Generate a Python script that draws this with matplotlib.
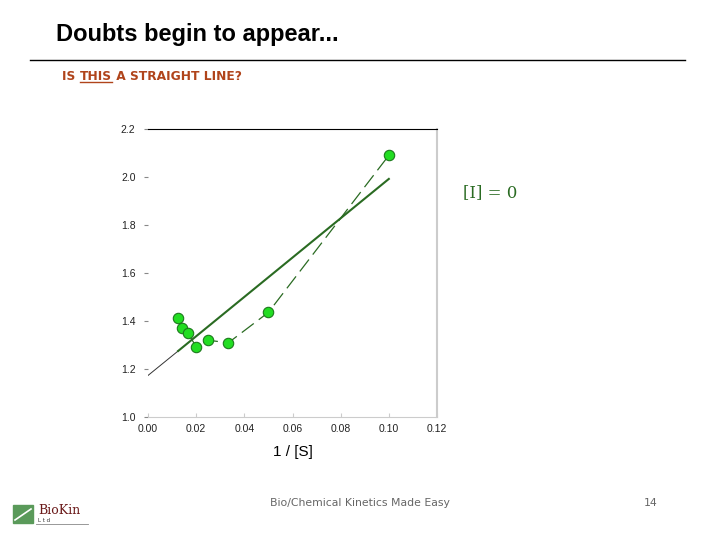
import matplotlib.pyplot as plt
from matplotlib.patches import Rectangle
import numpy as np

# data
inv_s = [1/80, 1/70, 1/60, 1/50, 1/40, 1/30, 1/20, 1/10]
rate = [1.412, 1.372, 1.348, 1.293, 1.320, 1.309, 1.436, 2.090]
fit_x = [0.0, 0.0125, 0.10]
fit_y = [1.173, 1.275, 1.992]
xticks = [0.00, 0.02, 0.04, 0.06, 0.08, 0.10, 0.12]
yticks = [1.0, 1.2, 1.4, 1.6, 1.8, 2.0, 2.2]

green = "#2a6b22"
sub_col = "#b0441b"
fig = plt.figure(figsize=(7.2, 5.4), dpi=100)

# slide header
fig.text(56/720, 1-34/540, "Doubts begin to appear...", fontsize=17, fontweight="bold",
         family="Liberation Sans", va="center")
fig.add_artist(plt.Line2D([30/720, 685/720], [1-60/540, 1-60/540], color="black", lw=1))

# subtitle, with THIS underlined
r = fig.canvas.get_renderer()
x0 = 62
t1 = fig.text(x0/720, 1-76/540, "IS ", fontsize=8.8, fontweight="bold", color=sub_col,
              family="DejaVu Sans", va="center")
w1 = t1.get_window_extent(r).width
t2 = fig.text((x0+w1)/720, 1-76/540, "THIS", fontsize=8.8, fontweight="bold", color=sub_col,
              family="DejaVu Sans", va="center")
w2 = t2.get_window_extent(r).width
fig.text((x0+w1+w2)/720, 1-76/540, " A STRAIGHT LINE?", fontsize=8.8, fontweight="bold",
         color=sub_col, family="DejaVu Sans", va="center")
fig.add_artist(plt.Line2D([(x0+w1)/720, (x0+w1+w2)/720], [1-82/540, 1-82/540], color=sub_col, lw=1))

ax = fig.add_axes([148/720, 1-417/540, 289/720, 288/540])
ax.plot(inv_s, rate, color=green, lw=0.9, ls=(0, (12, 5)), zorder=2)
ax.plot(inv_s, rate, "o", ms=7.5, mfc="#22dd22", mec="#1c7a1c", mew=0.8, ls="none", zorder=4)
ax.plot(fit_x[:2], fit_y[:2], color="#333333", lw=0.7, zorder=3)
ax.plot(fit_x[1:], fit_y[1:], color=green, lw=1.5, zorder=3)

ax.set_xlim(0, 0.12)
ax.set_ylim(1.0, 2.2)
ax.set_xticks(xticks)
ax.set_yticks(yticks)
ax.set_xticklabels(["%.2f" % v for v in xticks], family="Liberation Sans")
ax.set_yticklabels(["%.1f" % v for v in yticks], family="Liberation Sans")
ax.tick_params(axis="x", direction="in", length=3, color="#cccccc", labelsize=7.5, pad=5,
               labelcolor="#222222")
ax.tick_params(axis="y", direction="out", length=3, color="#888888", labelsize=7.5, pad=6,
               labelcolor="#222222")
ax.spines["left"].set_visible(False)
ax.spines["top"].set_color("black")
ax.spines["right"].set_color("#cccccc")
ax.spines["bottom"].set_color("#cccccc")
ax.spines["right"].set_linewidth(1.5)
ax.set_xlabel("1 / [S]", fontsize=11, labelpad=8, family="Liberation Sans")

fig.text(490/720, 1-193/540, "[I] = 0", fontsize=12, color=green, family="DejaVu Serif",
         ha="center", va="center")

# footer
fig.text(360/720, 1-503/540, "Bio/Chemical Kinetics Made Easy", fontsize=7.8, color="#666666",
         ha="center", va="center")
fig.text(651/720, 1-503/540, "14", fontsize=7.8, color="#666666", ha="center", va="center")
fig.add_artist(Rectangle((13/720, 1-523/540), 20/720, 18/540, color="#5a9a5a", transform=fig.transFigure))
fig.add_artist(plt.Line2D([15/720, 31/720], [1-520/540, 1-509/540], color="white", lw=1.2))
fig.text(38/720, 1-510/540, "BioKin", fontsize=9, color="#6b1a1a", family="DejaVu Serif", va="center")
fig.text(38/720, 1-520/540, "L t d", fontsize=4, color="#333333", va="center")
fig.add_artist(plt.Line2D([36/720, 88/720], [1-524/540, 1-524/540], color="#888888", lw=0.6))

fig.savefig("out.png", dpi=100)
